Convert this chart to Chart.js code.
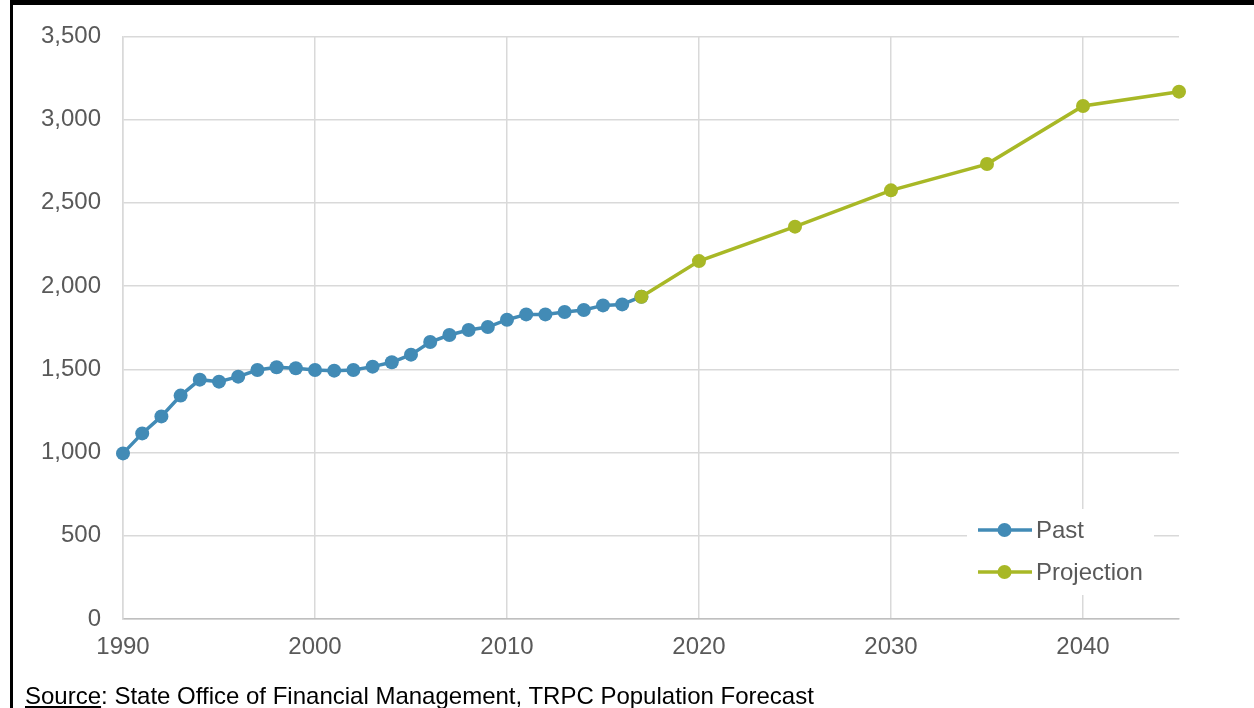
<!DOCTYPE html>
<html>
<head>
<meta charset="utf-8">
<script src="https://cdn.jsdelivr.net/npm/chart.js@4/dist/chart.umd.min.js"></script>
<style>
  html, body { margin: 0; padding: 0; background: #fff; }
  #wrap { position: relative; width: 1254px; height: 708px; overflow: hidden; background: #fff; }
  #topBar { position: absolute; left: 10px; top: 0; width: 1244px; height: 5px; background: #000; }
  #leftBar { position: absolute; left: 10px; top: 0; width: 3px; height: 708px; background: #000; }
  canvas { position: absolute; left: 0; top: 0; }
  #source {
    position: absolute; left: 25px; top: 684px;
    font-family: "Liberation Sans", Arial, sans-serif; font-size: 24px; line-height: 24px;
    color: #000; white-space: nowrap;
  }
  #source u { text-decoration: underline; }
</style>
</head>
<body>
<div id="wrap">
  <canvas id="chart" width="1254" height="708"></canvas>
  <div id="topBar"></div>
  <div id="leftBar"></div>
  <div id="source"><u>Source</u>: State Office of Financial Management, TRPC Population Forecast</div>
</div>
<script>
// Population estimates by year
const pastYears = [1990, 1991, 1992, 1993, 1994, 1995, 1996, 1997, 1998, 1999,
                   2000, 2001, 2002, 2003, 2004, 2005, 2006, 2007, 2008, 2009,
                   2010, 2011, 2012, 2013, 2014, 2015, 2016, 2017];
const pastValues = [995, 1115, 1217, 1342, 1438, 1426, 1456, 1496, 1512, 1506,
                    1496, 1492, 1496, 1516, 1542, 1588, 1664, 1706, 1736, 1754,
                    1798, 1830, 1830, 1844, 1856, 1884, 1890, 1936];

// Forecast
const projectionYears = [2017, 2020, 2025, 2030, 2035, 2040, 2045];
const projectionValues = [1936, 2150, 2357, 2575, 2733, 3082, 3168];

const seriesNames = ['Past', 'Projection'];
const seriesColors = ['#428BB6', '#A8B826'];

const yTicks = [0, 500, 1000, 1500, 2000, 2500, 3000, 3500];
const xTickYears = [1990, 2000, 2010, 2020, 2030, 2040];

const toPoints = (xs, ys) => xs.map((x, i) => ({ x: x, y: ys[i] }));

const FONT = '"Liberation Sans", Arial, sans-serif';
const TEXT_COLOR = '#595959';

// Legend drawn inside the plot area on a white panel
const innerLegend = {
  id: 'innerLegend',
  afterDraw(chart) {
    const ctx = chart.ctx;
    ctx.save();
    ctx.fillStyle = '#ffffff';
    ctx.fillRect(967, 509, 187, 86);
    const rows = [530, 572];
    chart.data.datasets.forEach((ds, i) => {
      const y = rows[i];
      ctx.strokeStyle = ds.borderColor;
      ctx.lineWidth = 3.5;
      ctx.beginPath();
      ctx.moveTo(978, y);
      ctx.lineTo(1032, y);
      ctx.stroke();
      ctx.fillStyle = ds.backgroundColor;
      ctx.beginPath();
      ctx.arc(1004.5, y, 7, 0, Math.PI * 2);
      ctx.fill();
      ctx.fillStyle = TEXT_COLOR;
      ctx.font = '24px ' + FONT;
      ctx.textBaseline = 'middle';
      ctx.textAlign = 'left';
      ctx.fillText(ds.label, 1036, y + 1);
    });
    ctx.restore();
  }
};

const lineStyle = (i) => ({
  label: seriesNames[i],
  borderColor: seriesColors[i],
  backgroundColor: seriesColors[i],
  borderWidth: 3.5,
  pointRadius: 7,
  pointBorderWidth: 0,
  pointHoverRadius: 7,
  tension: 0,
  clip: false
});

new Chart(document.getElementById('chart'), {
  type: 'line',
  data: {
    datasets: [
      Object.assign(lineStyle(0), { data: toPoints(pastYears, pastValues), order: 2 }),
      Object.assign(lineStyle(1), { data: toPoints(projectionYears, projectionValues), order: 1 })
    ]
  },
  options: {
    responsive: false,
    animation: false,
    devicePixelRatio: 1,
    layout: { padding: { left: 0, right: 75, top: 35, bottom: 0 } },
    plugins: {
      legend: { display: false },
      tooltip: { enabled: false }
    },
    scales: {
      x: {
        type: 'linear',
        min: 1990,
        max: 2045,
        afterBuildTicks(scale) {
          scale.ticks = xTickYears.map(v => ({ value: v }));
        },
        afterFit(scale) { scale.height = 89; },
        grid: { color: '#D9D9D9', lineWidth: 1.5, drawTicks: false },
        border: { color: '#BFBFBF', width: 1.5 },
        ticks: {
          padding: 14,
          color: TEXT_COLOR,
          font: { family: FONT, size: 24 },
          maxRotation: 0,
          callback: v => String(v)
        }
      },
      y: {
        min: 0,
        max: 3500,
        afterBuildTicks(scale) {
          scale.ticks = yTicks.map(v => ({ value: v }));
        },
        afterFit(scale) { scale.width = 123; },
        grid: { color: '#D9D9D9', lineWidth: 1.5, drawTicks: false },
        border: { color: '#D9D9D9', width: 1.5 },
        ticks: {
          padding: 22,
          color: TEXT_COLOR,
          font: { family: FONT, size: 24 },
          callback: v => v.toLocaleString('en-US')
        }
      }
    }
  },
  plugins: [innerLegend]
});
</script>
</body>
</html>
